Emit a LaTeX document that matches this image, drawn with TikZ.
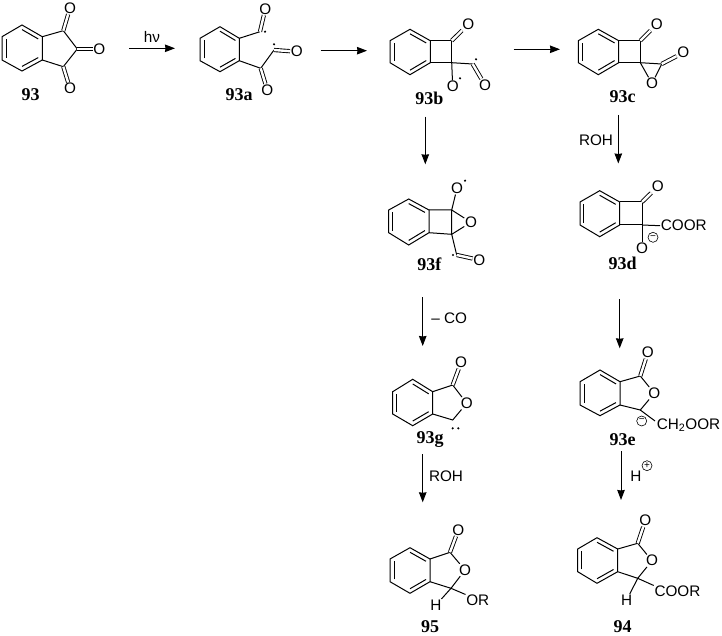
\documentclass[tikz,border=0pt]{standalone}
\usepackage{fontspec}
\usetikzlibrary{arrows.meta,calc}
\newfontfamily\atomfont{Liberation Sans}
\newfontfamily\labfont{Liberation Serif}
\tikzset{
  bond/.style={line width=1pt,line join=miter},
  dbond/.style={double,double distance=2.4pt,line width=0.9pt},
  atom/.style={font=\atomfont\fontsize{15.3}{16}\selectfont,inner sep=0.6pt,text=black},
  lab/.style={font=\labfont\bfseries\fontsize{18}{20}\selectfont,inner sep=0pt},
  reagent/.style={font=\atomfont\fontsize{15.3}{16}\selectfont,inner sep=0pt},
  rxn/.style={line width=1pt,-{Stealth[length=10pt,width=7.5pt,inset=0.5pt]}},
  rad/.style={circle,fill=black,inner sep=0pt,minimum size=2.4pt},
  chg/.style={circle,draw,line width=0.6pt,inner sep=0pt,minimum size=10pt,font=\atomfont\fontsize{10}{10}\selectfont}
}
% prefix, left x, right x, mid x, top y, upper y, lower y, bottom y
\newcommand{\benzring}[8]{%
  \coordinate (#1a) at (#4,#5);
  \coordinate (#1b) at (#3,#6);
  \coordinate (#1c) at (#3,#7);
  \coordinate (#1d) at (#4,#8);
  \coordinate (#1e) at (#2,#7);
  \coordinate (#1f) at (#2,#6);
  \coordinate (#1m) at ($(#1a)!0.5!(#1d)$);
  \draw[bond] (#1a)--(#1b)--(#1c)--(#1d)--(#1e)--(#1f)--cycle;
  \draw[bond] ($(#1m)!0.80!(#1a)$)--($(#1m)!0.80!(#1b)$);
  \draw[bond] ($(#1m)!0.80!(#1c)$)--($(#1m)!0.80!(#1d)$);
  \draw[bond] ($(#1m)!0.80!(#1e)$)--($(#1m)!0.80!(#1f)$);
}
\begin{document}
\begin{tikzpicture}[x=1pt,y=-1pt]
\useasboundingbox (0,0) rectangle (722,636);

% ---------- 93
\benzring{A}{2}{42.3}{22}{25}{36.7}{60}{71}
\coordinate (A1) at (63.3,30.7);
\coordinate (A2) at (77.3,49);
\coordinate (A3) at (63.3,66.7);
\node[atom] (AO1) at (70,8) {O};
\node[atom] (AO2) at (99.3,49) {O};
\node[atom] (AO3) at (70,88.5) {O};
\draw[bond] (Ab)--(A1)--(A2)--(A3)--(Ac);
\draw[dbond] (A1)--(AO1);
\draw[dbond] (A2)--(AO2);
\draw[dbond] (A3)--(AO3);
\node[lab] (L93) at (30.7,95) {93};

% ---------- 93a
\benzring{B}{200}{239.3}{220}{26.7}{38.3}{60.7}{71.7}
\coordinate (B1) at (260,31.7);
\coordinate (B2) at (260.7,68.3);
\coordinate (B3) at (274,50);
\node[atom] (BO1) at (265.3,9) {O};
\node[atom] (BO2) at (267.3,90) {O};
\node[atom] (BO3) at (296.7,51.7) {O};
\draw[bond] (Bb)--(B1);
\draw[bond] (Bc)--(B2)--(B3);
\draw[dbond] (B1)--(BO1);
\draw[dbond] (B2)--(BO2);
\draw[dbond] (B3)--(BO3);
\node[rad] (Br1) at (265,31.7) {};
\node[rad] (Br2) at (274,44.3) {};
\node[lab] (L93a) at (239,95) {93a};

% ---------- 93b
\benzring{C}{390}{430.3}{410}{29.3}{40.7}{62.7}{74.7}
\coordinate (C1) at (451.7,40.7);
\coordinate (C2) at (451.7,62.7);
\coordinate (C3) at (472.7,64);
\node[atom] (CO1) at (468.3,24.3) {O};
\node[atom] (CO2) at (452.7,86.7) {O};
\node[atom] (CO3) at (485,85) {O};
\draw[bond] (Cb)--(C1)--(C2)--(Cc);
\draw[bond] (C2)--(C3);
\draw[bond] (C2)--(CO2);
\draw[dbond] (C1)--(CO1);
\draw[dbond] (C3)--(CO3);
\node[rad] (Cr1) at (476,59.3) {};
\node[rad] (Cr2) at (460,78.3) {};
\node[lab] (L93b) at (429.3,98) {93b};

% ---------- 93c
\benzring{D}{578.3}{618.7}{598.3}{29.3}{40.7}{62.7}{74.7}
\coordinate (D1) at (640.3,40.7);
\coordinate (D2) at (640.3,62.7);
\coordinate (D3) at (661.7,64);
\node[atom] (DO1) at (656.7,24.3) {O};
\node[atom] (DO2) at (683.3,52.7) {O};
\node[atom] (DO3) at (652,83.5) {O};
\draw[bond] (Db)--(D1)--(D2)--(Dc);
\draw[bond] (D2)--(D3);
\draw[bond] (D2)--(DO3);
\draw[bond] (D3)--(DO3);
\draw[dbond] (D1)--(DO1);
\draw[dbond] (D3)--(DO2);
\node[lab] (L93c) at (622.7,97) {93c};

% ---------- 93f
\benzring{E}{388.7}{429}{408.7}{199}{210}{232.7}{245}
\coordinate (E1) at (451.7,210);
\coordinate (E2) at (451.7,234.3);
\coordinate (E3) at (456.7,255);
\node[atom] (EO1) at (457,188.3) {O};
\node[atom] (EO2) at (471,222.3) {O};
\node[atom] (EO3) at (479.3,260) {O};
\draw[bond] (Eb)--(E1)--(E2)--(Ec);
\draw[bond] (E1)--(EO1);
\draw[bond] (E1)--(EO2);
\draw[bond] (E2)--(EO2);
\draw[bond] (E2)--(E3);
\draw[dbond] (E3)--(EO3);
\node[rad] (Er1) at (465,180.7) {};
\node[rad] (Er2) at (453,255) {};
\node[lab] (L93f) at (429.3,264) {93f};

% ---------- 93d
\benzring{F}{580}{619.7}{599.7}{190.7}{202}{225}{236.7}
\coordinate (F1) at (642,202);
\coordinate (F2) at (642,225);
\node[atom] (FO1) at (657.7,186.7) {O};
\node[atom] (FO2) at (642,248) {O};
\node[atom,anchor=west] (FR) at (660,225.7) {COOR};
\draw[bond] (Fb)--(F1)--(F2)--(Fc);
\draw[bond] (F2)--(FR.west);
\draw[bond] (F2)--(FO2);
\draw[dbond] (F1)--(FO1);
\node[chg] (Fm) at (653,237.3) {−};
\node[lab] (L93d) at (622.7,263.5) {93d};

% ---------- 93g
\benzring{G}{392.7}{432.7}{412.7}{379.3}{391.7}{414}{425.7}
\coordinate (G1) at (452.7,385);
\coordinate (G2) at (452.7,420);
\node[atom] (GO1) at (461,362.7) {O};
\node[atom] (GO2) at (466.7,403.3) {O};
\draw[bond] (Gb)--(G1)--(GO2)--(G2)--(Gc);
\draw[dbond] (G1)--(GO1);
\node[rad] (Gr1) at (452.7,428.3) {};
\node[rad] (Gr2) at (458.3,428.3) {};
\node[lab] (L93g) at (430,440) {93g};

% ---------- 93e
\benzring{H}{580}{620}{600}{370}{381.7}{405}{415.7}
\coordinate (H1) at (640.3,376);
\coordinate (H2) at (640.3,410);
\coordinate (Hb2) at (655,421);
\node[atom] (HO1) at (647.7,352.7) {O};
\node[atom] (HO2) at (654.3,393.3) {O};
\node[atom,anchor=west] (HR) at (656,425) {CH\textsubscript{2}OOR};
\draw[bond] (Hb)--(H1)--(HO2)--(H2)--(Hc);
\draw[bond] (H2)--(Hb2);
\draw[dbond] (H1)--(HO1);
\node[chg] (Hm) at (641.7,421) {−};
\node[lab] (L93e) at (622.7,440) {93e};

% ---------- 95
\benzring{J}{390}{430}{410}{547.7}{559}{581.7}{593.3}
\coordinate (J1) at (450,552.3);
\coordinate (J2) at (451,588.3);
\node[atom] (JO1) at (458.3,530) {O};
\node[atom] (JO2) at (465,570) {O};
\node[atom] (JH) at (436,605) {H};
\node[atom,anchor=west] (JR) at (465.5,600.7) {OR};
\draw[bond] (Jb)--(J1)--(JO2)--(J2)--(Jc);
\draw[bond] (J2)--(JH);
\draw[bond] (J2)--(JR.north west);
\draw[dbond] (J1)--(JO1);
\node[lab] (L95) at (430,627) {95};

% ---------- 94
\benzring{K}{577.7}{617.7}{597}{537.7}{549}{571.7}{583.3}
\coordinate (K1) at (637.7,543.3);
\coordinate (K2) at (637.7,578.3);
\node[atom] (KO1) at (645.3,520.7) {O};
\node[atom] (KO2) at (652,560.7) {O};
\node[atom] (KH) at (626.7,600) {H};
\node[atom,anchor=west] (KR) at (653.7,591.7) {COOR};
\draw[bond] (Kb)--(K1)--(KO2)--(K2)--(Kc);
\draw[bond] (K2)--(KH);
\draw[bond] (K2)--(KR.north west);
\draw[dbond] (K1)--(KO1);
\node[lab] (L94) at (622.7,627) {94};

% ---------- reaction arrows
\coordinate (r1a) at (129,48.3);  \coordinate (r1b) at (175,48.3);
\coordinate (r2a) at (320.7,50.7);\coordinate (r2b) at (367,50.7);
\coordinate (r3a) at (513.7,49.3);\coordinate (r3b) at (560,49.3);
\coordinate (r4a) at (425.3,116.7);\coordinate (r4b) at (425.3,164.3);
\coordinate (r5a) at (618.3,115);\coordinate (r5b) at (618.3,163.5);
\coordinate (r6a) at (422.7,297.3);\coordinate (r6b) at (422.7,346);
\coordinate (r7a) at (619.7,299.3);\coordinate (r7b) at (619.7,348.3);
\coordinate (r8a) at (422.7,454);\coordinate (r8b) at (422.7,502.3);
\coordinate (r9a) at (621,451);\coordinate (r9b) at (621,500);
\foreach \i in {1,...,9} \draw[rxn] (r\i a)--(r\i b);

\node[reagent] (T1) at (152,37) {hν};
\node[reagent] (T2) at (596,140.7) {ROH};
\node[reagent] (T3) at (449.3,318.3) {– CO};
\node[reagent] (T4) at (446,476.7) {ROH};
\node[reagent] (T5) at (636,476.7) {H};
\node[chg] (T6) at (647,465.7) {+};
\end{tikzpicture}
\end{document}
